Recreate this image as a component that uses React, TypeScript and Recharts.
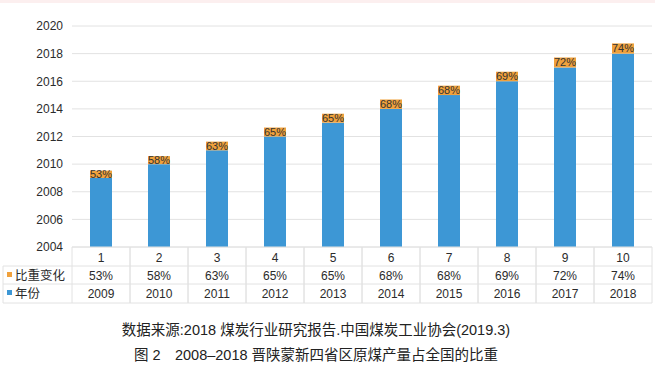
import React from 'react';
import { BarChart, Bar, XAxis, YAxis, CartesianGrid, LabelList } from 'recharts';

const categories = ['1', '2', '3', '4', '5', '6', '7', '8', '9', '10'];
const shares = [53, 58, 63, 65, 65, 68, 68, 69, 72, 74];
const years = [2009, 2010, 2011, 2012, 2013, 2014, 2015, 2016, 2017, 2018];
const yTicks = [2004, 2006, 2008, 2010, 2012, 2014, 2016, 2018, 2020];

const BLUE = '#3d97d5';
const ORANGE = '#f0a13c';
const GRID = '#e2e2e2';
const TEXT = '#2b2b2b';
const FONT = '"Liberation Sans", Arial, "Noto Sans CJK SC", sans-serif';

const W = 655;
const PLOT_LEFT = 72;
const PLOT_RIGHT = 3;
const CELL = (W - PLOT_LEFT - PLOT_RIGHT) / categories.length;
const ROWS = [0, 19, 37, 56];

const data = categories.map((c, i) => ({
  cat: c,
  year: years[i],
  share: shares[i] / 100,
  shareText: `${shares[i]}%`,
}));

// x axis ticks double as the data table under the bars
function TableTick(props: any) {
  const { x, y, payload, index } = props;
  const d = data[index];
  const half = CELL / 2;
  const left = x - half;
  const right = x + half;
  return (
    <g fontFamily={FONT} fontSize={12} fill={TEXT}>
      {ROWS.map((r) => (
        <line key={r} x1={left} x2={right} y1={y + r} y2={y + r} stroke={GRID} />
      ))}
      <line x1={left} x2={left} y1={y} y2={y + ROWS[3]} stroke={GRID} />
      <line x1={right} x2={right} y1={y} y2={y + ROWS[3]} stroke={GRID} />
      <text x={x} y={y + 15} textAnchor="middle">{payload.value}</text>
      <text x={x} y={y + 33} textAnchor="middle">{d.shareText}</text>
      <text x={x} y={y + 51} textAnchor="middle">{d.year}</text>
      {index === 0 && (
        <g>
          <line x1={3} x2={left} y1={y + ROWS[1]} y2={y + ROWS[1]} stroke={GRID} />
          <line x1={3} x2={left} y1={y + ROWS[2]} y2={y + ROWS[2]} stroke={GRID} />
          <line x1={3} x2={left} y1={y + ROWS[3]} y2={y + ROWS[3]} stroke={GRID} />
          <line x1={3} x2={3} y1={y + ROWS[1]} y2={y + ROWS[3]} stroke={GRID} />
          <rect x={7} y={y + 25} width={5} height={5} fill={ORANGE} />
          <text x={15} y={y + 33} fontSize={12.5}>比重变化</text>
          <rect x={7} y={y + 43} width={5} height={5} fill={BLUE} />
          <text x={15} y={y + 51} fontSize={12.5}>年份</text>
        </g>
      )}
    </g>
  );
}

export default function App() {
  return (
    <div style={{ position: 'absolute', left: 0, top: 0, width: 655, height: 370, background: '#fff', fontFamily: FONT }}>
      <div style={{ position: 'absolute', left: 0, top: 0, width: 655, height: 3, background: '#fcefef' }} />
      <BarChart
        width={W}
        height={310}
        data={data}
        margin={{ top: 26, right: PLOT_RIGHT, bottom: 3, left: 0 }}
        barSize={22}
      >
        <CartesianGrid vertical={false} stroke={GRID} />
        <YAxis
          type="number"
          domain={[2004, 2020]}
          ticks={yTicks}
          allowDataOverflow
          width={PLOT_LEFT}
          axisLine={false}
          tickLine={false}
          tickSize={0}
          tickMargin={9}
          tick={{ fontSize: 12, fill: TEXT, fontFamily: FONT }}
        />
        <XAxis
          dataKey="cat"
          height={60}
          axisLine={false}
          tickLine={false}
          tickSize={0}
          tickMargin={0}
          interval={0}
          tick={<TableTick />}
        />
        <Bar dataKey="year" stackId="s" fill={BLUE} isAnimationActive={false} />
        <Bar dataKey="share" stackId="s" fill={ORANGE} isAnimationActive={false}>
          <LabelList dataKey="shareText" position="center" fontSize={11} fill="#333" fontFamily={FONT} />
        </Bar>
      </BarChart>
      <div style={{ position: 'absolute', left: 0, width: 632, top: 318, textAlign: 'center', fontSize: 14.5, color: '#222' }}>
        数据来源:2018 煤炭行业研究报告.中国煤炭工业协会(2019.3)
      </div>
      <div style={{ position: 'absolute', left: 0, width: 632, top: 343, textAlign: 'center', fontSize: 14.5, color: '#222' }}>
        图 2　2008–2018 晋陕蒙新四省区原煤产量占全国的比重
      </div>
    </div>
  );
}
